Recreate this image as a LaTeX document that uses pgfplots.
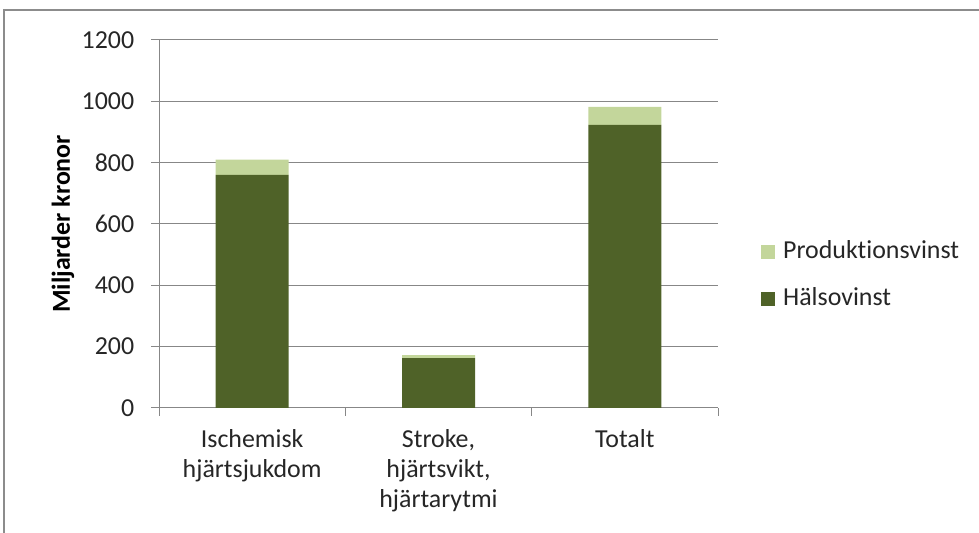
\documentclass[border=0pt]{standalone}
\usepackage{pgfplots}
\pgfplotsset{compat=1.18}
\usepackage{fontspec}
\setmainfont[Ligatures={NoCommon,NoRare,NoContextual}]{Carlito}
\definecolor{dark}{HTML}{4F6228}
\definecolor{light}{HTML}{C3D69B}
\definecolor{gridc}{HTML}{878787}
\definecolor{framec}{HTML}{8C8C8C}
\begin{document}
\fontsize{26}{31}\selectfont
\begin{tikzpicture}[x=1bp,y=1bp]
\path[use as bounding box] (0,0) rectangle (979,533);
\draw[framec, line width=2bp] (4,0) -- (4,523) -- (979,523);
\begin{axis}[
  at={(159bp,125bp)}, anchor=south west,
  scale only axis, width=559bp, height=368bp,
  ybar stacked, bar width=73bp,
  xmin=-0.5, xmax=2.5, ymin=0, ymax=1200,
  ytick={0,200,...,1200},
  xtick={0,1,2},
  xticklabels={{Ischemisk\\hjärtsjukdom},{Stroke,\\hjärtsvikt,\\hjärtarytmi},{Totalt}},
  minor xtick={-0.5,0.5,1.5,2.5},
  axis x line*=bottom, axis y line*=left,
  axis line style={gridc, line width=1bp},
  ymajorgrids, grid style={gridc, line width=1bp},
  tick align=outside,
  major tick length=8bp, minor tick length=8bp,
  x tick style={draw=none},
  minor x tick style={draw=gridc, line width=1bp},
  y tick style={gridc, line width=1bp},
  /pgf/number format/assume math mode=true,
  /pgf/number format/1000 sep={},
  ticklabel style={font=\fontsize{26}{31}\selectfont, text=black!85},
  yticklabel style={xshift=-8bp},
  xticklabel style={align=center, yshift=-5bp, font=\fontsize{26}{30}\selectfont},
  ylabel={\textbf{Miljarder kronor}},
  ylabel style={at={([xshift=-96bp]rel axis cs:0,0.5)}, anchor=center, font=\fontsize{26}{30}\selectfont\bfseries},
  legend style={draw=none, at={(1,0.36)}, anchor=west, xshift=40bp,
    font=\fontsize{26}{31}\selectfont, text=black!85,
    nodes={anchor=west, inner sep=0bp, text height=18bp, text depth=6bp},
    row sep=23bp,
    /tikz/every odd column/.append style={column sep=8bp}},
  legend image code/.code={\draw[#1,draw=none] (0bp,-7bp) rectangle (14bp,7bp);},
  reverse legend,
]
\addplot[fill=dark, draw=none] coordinates {(0,760) (1,163) (2,923)};
\addplot[fill=light, draw=none] coordinates {(0,50) (1,9) (2,59)};
\legend{Hälsovinst, Produkt\kern0pt{}ionsvinst}
\end{axis}
\end{tikzpicture}
\end{document}
